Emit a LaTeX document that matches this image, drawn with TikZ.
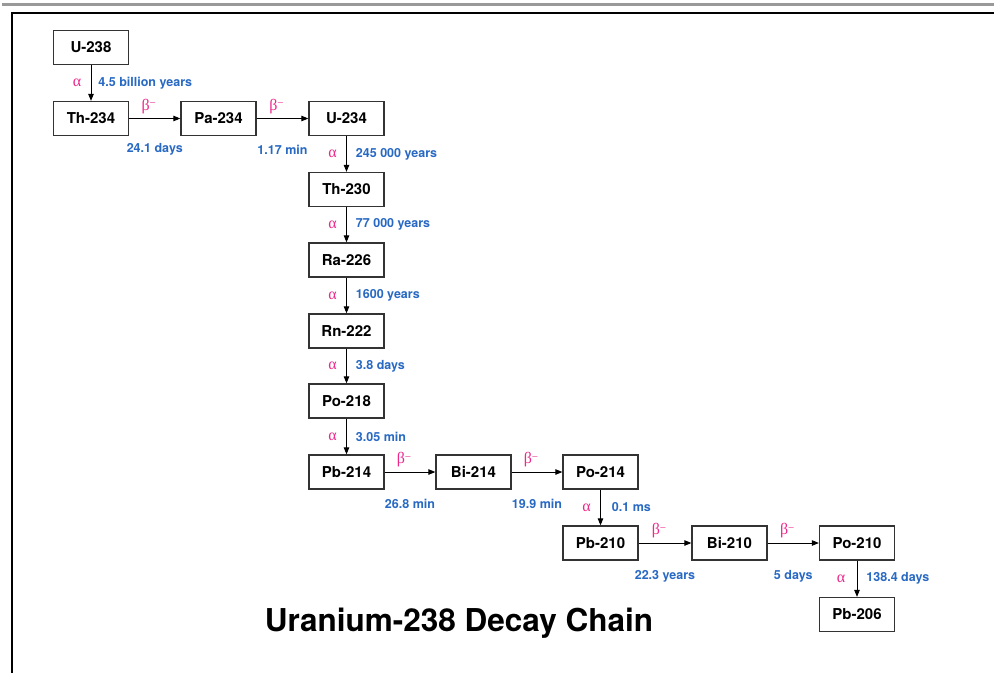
\documentclass[tikz,border=0pt]{standalone}
\usepackage{fontspec}
\setmainfont{TeX Gyre Heros}
\newfontfamily\grk{Liberation Serif}
\usetikzlibrary{arrows.meta}
\definecolor{pinkA}{RGB}{236,40,140}
\definecolor{blueT}{RGB}{40,105,195}
\newcommand{\alp}{{\grk α}}
\newcommand{\bet}{{\grk β\raisebox{0.5ex}{\fontsize{11}{11}\selectfont −}}}
\begin{document}
\begin{tikzpicture}[x=1pt,y=-1pt,
 nuc/.style={draw=black!80, line width=1.3pt, minimum width=75pt, minimum height=34pt, inner sep=0pt, font=\fontsize{15}{15}\selectfont\bfseries},
 dec/.style={line width=0.9pt, -{Triangle[length=7pt,width=5.5pt]}},
 tl/.style={text=blueT, font=\fontsize{12.5}{13}\selectfont\bfseries, inner sep=0pt},
 gk/.style={text=pinkA, font=\fontsize{16}{16}\selectfont, inner sep=0pt}]
\useasboundingbox (0,0) rectangle (994,673);
\fill[white] (0,0) rectangle (994,673);
% frame
\fill[black!40] (2,3) rectangle (994,6);
\draw[line width=2pt] (12,673) -- (12,13) -- (994,13);
% nuclides
\node[nuc] (U238) at (91,47.5) {U-238};
\node[nuc] (Th234) at (91,118.5) {Th-234};
\node[nuc] (Pa234) at (218.5,118.5) {Pa-234};
\node[nuc] (U234) at (346.5,118.5) {U-234};
\node[nuc] (Th230) at (346.5,189.5) {Th-230};
\node[nuc] (Ra226) at (346.5,260) {Ra-226};
\node[nuc] (Rn222) at (346.5,331) {Rn-222};
\node[nuc] (Po218) at (346.5,401) {Po-218};
\node[nuc] (Pb214) at (346.5,472) {Pb-214};
\node[nuc] (Bi214) at (473.5,472) {Bi-214};
\node[nuc] (Po214) at (600.5,472) {Po-214};
\node[nuc] (Pb210) at (600.5,543) {Pb-210};
\node[nuc] (Bi210) at (729.5,543) {Bi-210};
\node[nuc] (Po210) at (857,543) {Po-210};
\node[nuc] (Pb206) at (857,614.5) {Pb-206};
% alpha decays
\draw[dec] (U238.south) -- (Th234.north) node[gk, midway, xshift=-14pt] {\alp} node[tl, midway, anchor=west, xshift=7pt] {4.5 billion years};
\draw[dec] (U234.south) -- (Th230.north) node[gk, midway, xshift=-14pt] {\alp} node[tl, midway, anchor=west, xshift=9pt] {245 000 years};
\draw[dec] (Th230.south) -- (Ra226.north) node[gk, midway, xshift=-14pt] {\alp} node[tl, midway, anchor=west, xshift=9pt] {77 000 years};
\draw[dec] (Ra226.south) -- (Rn222.north) node[gk, midway, xshift=-14pt] {\alp} node[tl, midway, anchor=west, xshift=9pt] {1600 years};
\draw[dec] (Rn222.south) -- (Po218.north) node[gk, midway, xshift=-14pt] {\alp} node[tl, midway, anchor=west, xshift=9pt] {3.8 days};
\draw[dec] (Po218.south) -- (Pb214.north) node[gk, midway, xshift=-14pt] {\alp} node[tl, midway, anchor=west, xshift=9pt] {3.05 min};
\draw[dec] (Po214.south) -- (Pb210.north) node[gk, midway, xshift=-14pt] {\alp} node[tl, midway, anchor=west, xshift=11pt] {0.1 ms};
\draw[dec] (Po210.south) -- (Pb206.north) node[gk, midway, xshift=-16pt] {\alp} node[tl, midway, anchor=west, xshift=9pt] {138.4 days};
% beta decays
\draw[dec] (Th234.east) -- (Pa234.west) node[gk, midway, xshift=-6pt, yshift=12pt] {\bet} node[tl, midway, yshift=-31pt] {24.1 days};
\draw[dec] (Pa234.east) -- (U234.west) node[gk, midway, xshift=-6pt, yshift=12pt] {\bet} node[tl, midway, yshift=-31pt] {1.17 min};
\draw[dec] (Pb214.east) -- (Bi214.west) node[gk, midway, xshift=-6pt, yshift=12pt] {\bet} node[tl, midway, yshift=-32pt] {26.8 min};
\draw[dec] (Bi214.east) -- (Po214.west) node[gk, midway, xshift=-6pt, yshift=12pt] {\bet} node[tl, midway, yshift=-32pt] {19.9 min};
\draw[dec] (Pb210.east) -- (Bi210.west) node[gk, midway, xshift=-6pt, yshift=12pt] {\bet} node[tl, midway, yshift=-33pt] {22.3 years};
\draw[dec] (Bi210.east) -- (Po210.west) node[gk, midway, xshift=-6pt, yshift=12pt] {\bet} node[tl, midway, yshift=-33pt] {5 days};
% title
\node[font=\fontsize{31.5}{32}\selectfont\bfseries] (title) at (459,623) {Uranium-238 Decay Chain};
\end{tikzpicture}
\end{document}
